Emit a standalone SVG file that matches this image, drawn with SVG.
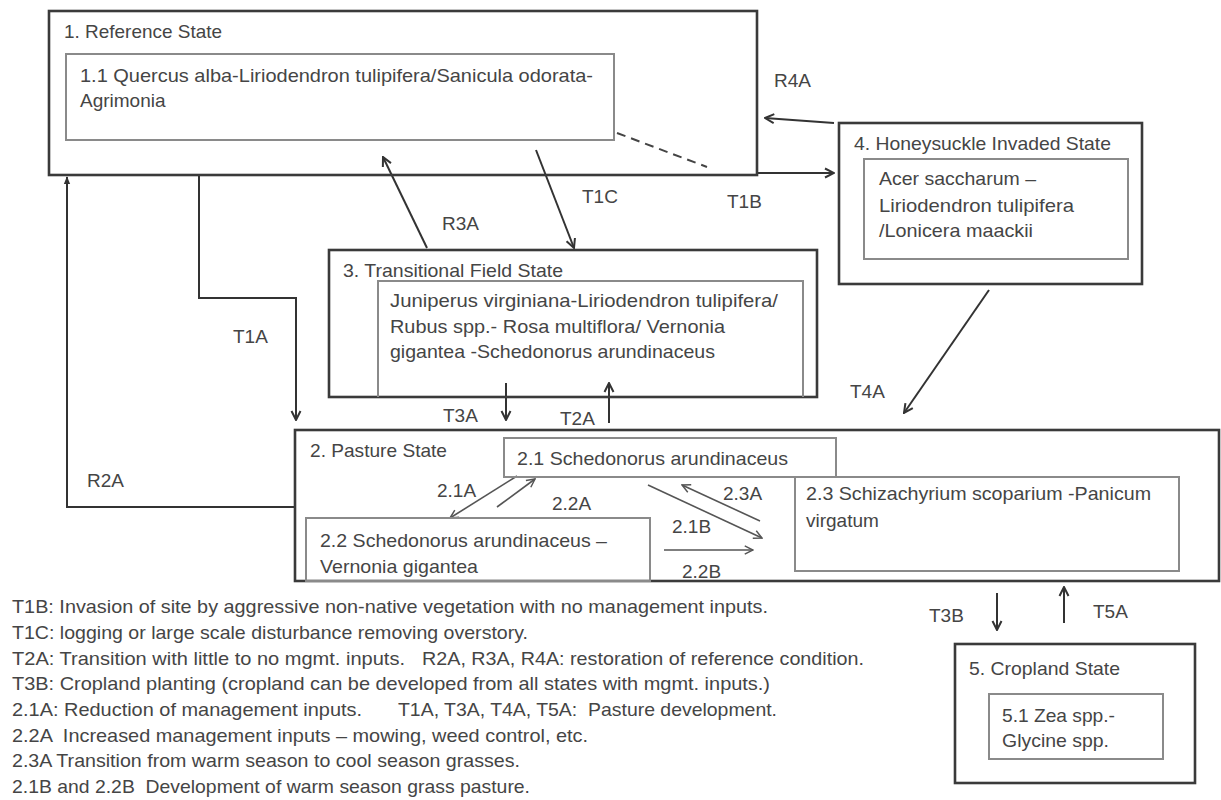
<svg xmlns="http://www.w3.org/2000/svg" width="1221" height="800" viewBox="0 0 1221 800">
<style>
text{font-family:"Liberation Sans",Arial,sans-serif;font-size:19px;fill:#454545;white-space:pre}
.outer{fill:none;stroke:#3a3a3a;stroke-width:2.6}
.inner{fill:none;stroke:#8a8a8a;stroke-width:2}
.c{fill:none;stroke:#333;stroke-width:2}
.ci{fill:none;stroke:#555;stroke-width:1.6}
</style>
<defs>
<marker id="open" viewBox="0 0 12 12" refX="11" refY="6" markerWidth="12" markerHeight="12" markerUnits="userSpaceOnUse" orient="auto">
<path d="M2,1.5 L11,6 L2,10.5" fill="none" stroke="#333" stroke-width="2"/>
</marker>
<marker id="openi" viewBox="0 0 12 12" refX="11" refY="6" markerWidth="11" markerHeight="11" markerUnits="userSpaceOnUse" orient="auto">
<path d="M2,1.5 L11,6 L2,10.5" fill="none" stroke="#555" stroke-width="1.6"/>
</marker>
<marker id="fill" viewBox="0 0 10 10" refX="9" refY="5" markerWidth="8" markerHeight="8" markerUnits="userSpaceOnUse" orient="auto">
<path d="M0,1 L10,5 L0,9 Z" fill="#333"/>
</marker>
</defs>
<rect width="1221" height="800" fill="#fff"/>

<g id="connectors">
<line class="c" x1="427" y1="248" x2="383" y2="157" marker-end="url(#open)"/>
<line class="c" x1="536" y1="150" x2="574" y2="248" marker-end="url(#open)"/>
<line x1="617" y1="133" x2="707" y2="167" stroke="#444" stroke-width="2" stroke-dasharray="9,6"/>
<line class="c" x1="757" y1="173" x2="834" y2="173" marker-end="url(#open)"/>
<line class="c" x1="834" y1="123" x2="765" y2="118" marker-end="url(#open)"/>
<polyline class="c" points="199,175 199,298 296,298 296,420" marker-end="url(#open)"/>
<polyline class="c" points="295,507 67,507 67,177" marker-end="url(#fill)"/>
<line class="c" x1="989" y1="290" x2="904" y2="413" marker-end="url(#open)"/>
<line class="c" x1="506" y1="383" x2="506" y2="420" marker-end="url(#open)"/>
<line class="c" x1="609" y1="423" x2="609" y2="383" marker-end="url(#open)"/>
<line class="ci" x1="517" y1="476" x2="450" y2="518" marker-end="url(#openi)"/>
<line class="ci" x1="497" y1="507" x2="535" y2="479" marker-end="url(#openi)"/>
<line class="ci" x1="648" y1="485" x2="762" y2="538" marker-end="url(#openi)"/>
<line class="ci" x1="760" y1="521" x2="682" y2="485" marker-end="url(#openi)"/>
<line class="ci" x1="664" y1="550" x2="753" y2="550" marker-end="url(#openi)"/>
<line class="c" x1="997" y1="593" x2="997" y2="630" marker-end="url(#open)"/>
<line class="c" x1="1064" y1="623" x2="1064" y2="587" marker-end="url(#open)"/>
<text x="774" y="87">R4A</text>
<text x="582" y="203">T1C</text>
<text x="727" y="208">T1B</text>
<text x="442" y="230">R3A</text>
<text x="233" y="343">T1A</text>
<text x="87" y="487">R2A</text>
<text x="850" y="398">T4A</text>
<text x="443" y="422">T3A</text>
<text x="560" y="425">T2A</text>
<text x="437" y="497">2.1A</text>
<text x="552" y="510">2.2A</text>
<text x="723" y="500">2.3A</text>
<text x="672" y="533">2.1B</text>
<text x="682" y="578">2.2B</text>
<text x="929" y="622">T3B</text>
<text x="1093" y="618">T5A</text>
</g>

<g id="state1">
<rect class="outer" x="49" y="11" width="708" height="164"/>
<text x="64" y="38" textLength="158" lengthAdjust="spacingAndGlyphs">1. Reference State</text>
<rect class="inner" x="66" y="54" width="548" height="86"/>
<text x="80" y="82" textLength="513" lengthAdjust="spacingAndGlyphs">1.1 Quercus alba-Liriodendron tulipifera/Sanicula odorata-</text>
<text x="80" y="107">Agrimonia</text>
</g>

<g id="state3">
<rect class="outer" x="329" y="250" width="488" height="147"/>
<text x="343" y="277" textLength="220" lengthAdjust="spacingAndGlyphs">3. Transitional Field State</text>
<path class="inner" d="M378,397 V281 H803 V397"/>
<text x="390" y="307" textLength="388" lengthAdjust="spacingAndGlyphs">Juniperus virginiana-Liriodendron tulipifera/</text>
<text x="390" y="333" textLength="335" lengthAdjust="spacingAndGlyphs">Rubus spp.- Rosa multiflora/ Vernonia</text>
<text x="390" y="358" textLength="325" lengthAdjust="spacingAndGlyphs">gigantea -Schedonorus arundinaceus</text>
</g>

<g id="state4">
<rect class="outer" x="839" y="123" width="303" height="161"/>
<text x="854" y="150" textLength="257" lengthAdjust="spacingAndGlyphs">4. Honeysuckle Invaded State</text>
<rect class="inner" x="864" y="159" width="264" height="100"/>
<text x="879" y="185" textLength="157" lengthAdjust="spacingAndGlyphs">Acer saccharum –</text>
<text x="879" y="212" textLength="195" lengthAdjust="spacingAndGlyphs">Liriodendron tulipifera</text>
<text x="879" y="237" textLength="154" lengthAdjust="spacingAndGlyphs">/Lonicera maackii</text>
</g>

<g id="state2">
<rect class="outer" x="295" y="430" width="924" height="151"/>
<text x="310" y="457" textLength="137" lengthAdjust="spacingAndGlyphs">2. Pasture State</text>
</g>

<g id="state2-1">
<rect class="inner" x="504" y="438" width="332" height="39" stroke="#707070"/>
<text x="517" y="465" textLength="271" lengthAdjust="spacingAndGlyphs">2.1 Schedonorus arundinaceus</text>
</g>

<g id="state2-2">
<rect class="inner" x="306" y="518" width="344" height="63" stroke="#707070"/>
<text x="320" y="547" textLength="287" lengthAdjust="spacingAndGlyphs">2.2 Schedonorus arundinaceus –</text>
<text x="320" y="573" textLength="158" lengthAdjust="spacingAndGlyphs">Vernonia gigantea</text>
</g>

<g id="state2-3">
<rect class="inner" x="795" y="477" width="384" height="94" stroke="#707070"/>
<text x="806" y="500" textLength="345" lengthAdjust="spacingAndGlyphs">2.3 Schizachyrium scoparium -Panicum</text>
<text x="806" y="527">virgatum</text>
</g>

<g id="state5">
<rect class="outer" x="955" y="644" width="240" height="139"/>
<text x="969" y="675" textLength="151" lengthAdjust="spacingAndGlyphs">5. Cropland State</text>
<rect class="inner" x="989" y="694" width="174" height="65"/>
<text x="1002" y="722" textLength="113" lengthAdjust="spacingAndGlyphs">5.1 Zea spp.-</text>
<text x="1002" y="747" textLength="107" lengthAdjust="spacingAndGlyphs">Glycine spp.</text>
</g>

<g id="legend">
<text x="12" y="613" textLength="756" lengthAdjust="spacingAndGlyphs">T1B: Invasion of site by aggressive non-native vegetation with no management inputs.</text>
<text x="12" y="639" textLength="516" lengthAdjust="spacingAndGlyphs">T1C: logging or large scale disturbance removing overstory.</text>
<text x="12" y="665" textLength="393" lengthAdjust="spacingAndGlyphs">T2A: Transition with little to no mgmt. inputs.</text>
<text x="422" y="665" textLength="442" lengthAdjust="spacingAndGlyphs">R2A, R3A, R4A: restoration of reference condition.</text>
<text x="12" y="690" textLength="758" lengthAdjust="spacingAndGlyphs">T3B: Cropland planting (cropland can be developed from all states with mgmt. inputs.)</text>
<text x="12" y="716" textLength="350" lengthAdjust="spacingAndGlyphs">2.1A: Reduction of management inputs.</text>
<text x="398" y="716" textLength="379" lengthAdjust="spacingAndGlyphs">T1A, T3A, T4A, T5A:  Pasture development.</text>
<text x="12" y="742" textLength="576" lengthAdjust="spacingAndGlyphs">2.2A  Increased management inputs – mowing, weed control, etc.</text>
<text x="12" y="767" textLength="508" lengthAdjust="spacingAndGlyphs">2.3A Transition from warm season to cool season grasses.</text>
<text x="12" y="793" textLength="518" lengthAdjust="spacingAndGlyphs">2.1B and 2.2B  Development of warm season grass pasture.</text>
</g>
</svg>
